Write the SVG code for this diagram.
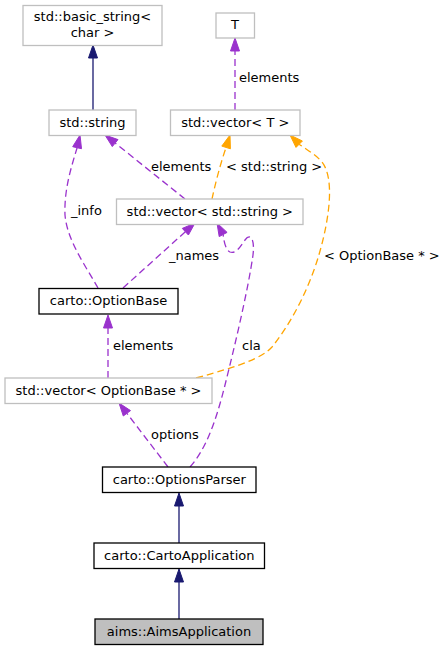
<svg xmlns="http://www.w3.org/2000/svg" width="446" height="651" viewBox="0 0 446 651">
<style>
text{font-family:"DejaVu Sans","Liberation Sans",sans-serif;font-size:13px;fill:#000}
.n text{text-anchor:middle}
.g rect{fill:#fff;stroke:#bfbfbf;stroke-width:1.3}
.b rect{fill:#fff;stroke:#000;stroke-width:1.3}
.s rect{fill:#bfbfbf;stroke:#000;stroke-width:1.3}
.inh{stroke:#191970;stroke-width:1.3;fill:none}
.inhA{fill:#191970;stroke:#191970}
.use{stroke:#9a32cd;stroke-width:1.3;fill:none;stroke-dasharray:7,4}
.useA{fill:#9a32cd;stroke:#9a32cd}
.tpl{stroke:#ffa500;stroke-width:1.3;fill:none;stroke-dasharray:7,4}
.tplA{fill:#ffa500;stroke:#ffa500}
</style>
<rect width="446" height="651" fill="#fff"/>
<g id="connectors">
  <path class="inh" d="M93,110 L93,58"/>
  <polygon class="inhA" points="93,45 88.5,58 97.5,58"/>
  <path class="use" d="M235,110 L235,51"/>
  <polygon class="useA" points="235,38 230.5,51 239.5,51"/>
  <path class="use" d="M185,199 L115.2,143.1"/>
  <polygon class="useA" points="105,135 118,139.6 112.3,146.6"/>
  <path class="tpl" d="M212,199 C215,185 220,165 226.1,147.4"/>
  <polygon class="tplA" points="230,135 230.4,148.8 221.8,146.1"/>
  <path class="tpl" d="M196,378 C240,366 262,358 272,347 C292,322 308,290 318,258 C328,225 336,180 322,162 C315,154 307,150 299.2,144.2"/>
  <polygon class="tplA" points="290,135 302.4,141 296,147.4"/>
  <path class="use" d="M98,288 C85,265 67,240 65,215 C64,190 71,168 77.1,147.7"/>
  <polygon class="useA" points="80,135 81.5,148.7 72.7,146.7"/>
  <path class="use" d="M123,288 L185.4,231.7"/>
  <polygon class="useA" points="195,223 188.4,235 182.3,228.4"/>
  <path class="use" d="M190,467 C205,450 215,425 225,385 C235,345 248,290 253,255 C255,238 250,233 245,240 C240,247 236,254 230,252 C226,250 224,243 223.2,234.5"/>
  <polygon class="useA" points="217,223 227.1,232.4 219.2,236.6"/>
  <path class="use" d="M108,378 L108,328"/>
  <polygon class="useA" points="108,315 103.5,328 112.5,328"/>
  <path class="use" d="M168,467 L126.9,413.3"/>
  <polygon class="useA" points="119,403 130.5,410.6 123.3,416"/>
  <path class="inh" d="M179,543 L179,506"/>
  <polygon class="inhA" points="179,493 174.5,506 183.5,506"/>
  <path class="inh" d="M179,619 L179,582"/>
  <polygon class="inhA" points="179,569 174.5,582 183.5,582"/>
  <text x="239" y="81.5">elements</text>
  <text x="151" y="170.5">elements</text>
  <text x="226" y="170.5">&lt; std::string &gt;</text>
  <text x="71" y="214.5">_info</text>
  <text x="169" y="259.5">_names</text>
  <text x="324" y="260">&lt; OptionBase * &gt;</text>
  <text x="242" y="349.5">cla</text>
  <text x="113" y="349.5">elements</text>
  <text x="151" y="438.5">options</text>
</g>
<g id="basic_string" class="n g"><rect x="23" y="5.5" width="139" height="40"/><text x="92.5" y="21.2">std::basic_string&lt;</text><text x="92.5" y="36.5">char &gt;</text></g>
<g id="T" class="n g"><rect x="216" y="13" width="38.5" height="25"/><text x="235" y="29.3">T</text></g>
<g id="std_string" class="n g"><rect x="49" y="110" width="87" height="25.5"/><text x="92.5" y="126.5">std::string</text></g>
<g id="vector_T" class="n g"><rect x="170.5" y="110" width="129.5" height="25.5"/><text x="235.3" y="126.5">std::vector&lt; T &gt;</text></g>
<g id="vector_string" class="n g"><rect x="116.5" y="199" width="186.5" height="25.5"/><text x="209.8" y="215.5">std::vector&lt; std::string &gt;</text></g>
<g id="OptionBase" class="n b"><rect x="39" y="288.5" width="139" height="25.5"/><text x="108.5" y="305">carto::OptionBase</text></g>
<g id="vector_OptionBase" class="n g"><rect x="5" y="378" width="207" height="25.5"/><text x="108.5" y="394.5">std::vector&lt; OptionBase * &gt;</text></g>
<g id="OptionsParser" class="n b"><rect x="102.5" y="467" width="153.5" height="25.5"/><text x="179.3" y="484">carto::OptionsParser</text></g>
<g id="CartoApplication" class="n b"><rect x="94" y="543" width="170.5" height="25.5"/><text x="179.3" y="560">carto::CartoApplication</text></g>
<g id="AimsApplication" class="n s"><rect x="95" y="619" width="168" height="25.5"/><text x="179" y="636">aims::AimsApplication</text></g>
</svg>
